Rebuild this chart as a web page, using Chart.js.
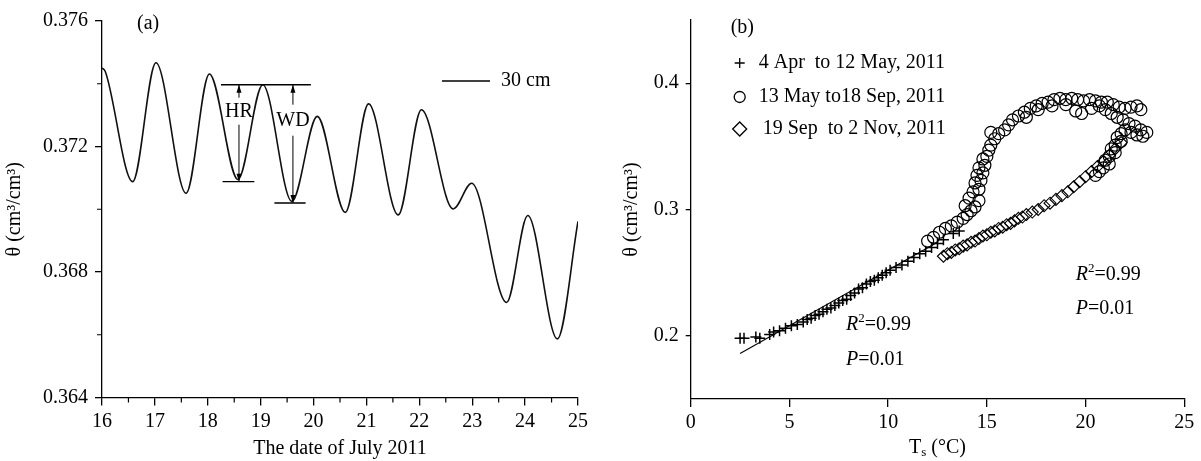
<!DOCTYPE html>
<html lang="en">
<head>
<meta charset="UTF-8" />
<title>Soil water content</title>
<script src="https://cdn.jsdelivr.net/npm/chart.js"></script>
<style>
  body { margin: 0; background: #fff; }
  #wrap { position: relative; width: 1201px; height: 461px; }
  canvas { position: absolute; top: 0; }
  #chartA { left: 0; }
  #chartB { left: 600px; }
</style>
</head>
<body>
<div id="wrap">
  <canvas id="chartA" width="600" height="461"></canvas>
  <canvas id="chartB" width="601" height="461"></canvas>
</div>

<script>
// ---- panel (a): 30 cm water content, July 2011 ----
const julyDays = [16.0, 16.06, 16.58, 17.02, 17.59, 18.03, 18.57, 19.04, 19.59, 20.07, 20.6, 21.04, 21.6, 22.04, 22.64, 22.99, 23.65, 24.05, 24.61, 25.0];
const theta30  = [0.3745, 0.3744, 0.37088, 0.37467, 0.37051, 0.37431, 0.37095, 0.37397, 0.37025, 0.37296, 0.3699, 0.37336, 0.36982, 0.37317, 0.37001, 0.37083, 0.36703, 0.3698, 0.36587, 0.36961];
const xTicksA = [16, 17, 18, 19, 20, 21, 22, 23, 24, 25];
const xMinorA = [16.5, 17.5, 18.5, 19.5, 20.5, 21.5, 22.5, 23.5, 24.5];
const yTicksA = [0.364, 0.368, 0.372, 0.376];
const yMinorA = [0.366, 0.370, 0.374];

// ---- panel (b): theta vs soil temperature ----
const plusT     = [2.5, 2.7, 3.3, 3.5, 4.0, 4.2, 4.5, 4.8, 5.1, 5.4, 5.7, 5.9, 6.1, 6.3, 6.5, 6.7, 6.9, 7.1, 7.3, 7.5, 7.7, 7.9, 8.1, 8.3, 8.5, 8.7, 8.9, 9.1, 9.3, 9.5, 9.7, 9.9, 10.1, 10.4, 10.7, 11.0, 11.3, 11.6, 11.9, 12.2, 12.5, 12.8, 13.3, 13.6];
const plusTheta = [0.198, 0.198, 0.199, 0.198, 0.201, 0.203, 0.204, 0.206, 0.208, 0.209, 0.211, 0.213, 0.214, 0.216, 0.217, 0.219, 0.221, 0.222, 0.224, 0.226, 0.228, 0.229, 0.232, 0.234, 0.237, 0.238, 0.241, 0.243, 0.244, 0.246, 0.248, 0.250, 0.252, 0.254, 0.256, 0.259, 0.262, 0.265, 0.267, 0.270, 0.273, 0.276, 0.281, 0.283];

const circT = [12.0, 12.3, 12.6, 12.9, 13.2, 13.5, 13.8, 14.0, 14.2, 13.9, 14.4, 14.6, 14.1, 14.3, 14.6, 14.4, 14.7, 14.5, 14.8, 14.6, 14.9, 14.8, 15.0, 15.1, 15.2, 15.2, 15.4, 15.6, 15.9, 16.1, 16.3, 16.6, 16.9, 17.2, 17.5, 17.8, 18.1, 18.4, 18.7, 19.0, 19.3, 19.6, 19.9, 20.2, 20.5, 20.8, 21.1, 21.4, 21.7, 22.0, 22.3, 22.6, 22.8,
  17.0, 17.6, 18.3, 19.0, 19.5, 19.8, 20.3, 20.7, 21.0, 21.3, 21.6, 21.9, 22.2, 22.5, 22.8, 23.1, 22.9, 22.6, 22.3, 22.0, 21.8, 21.6, 21.8, 21.5, 21.3, 21.5, 21.2, 21.0, 21.2, 20.9, 20.7, 20.5];
const circTheta = [0.275, 0.278, 0.282, 0.285, 0.287, 0.290, 0.293, 0.296, 0.299, 0.303, 0.302, 0.307, 0.309, 0.314, 0.316, 0.321, 0.323, 0.327, 0.329, 0.333, 0.335, 0.340, 0.342, 0.347, 0.351, 0.361, 0.356, 0.360, 0.363, 0.367, 0.371, 0.374, 0.377, 0.380, 0.382, 0.384, 0.385, 0.387, 0.388, 0.387, 0.388, 0.387, 0.386, 0.387, 0.386, 0.385, 0.385, 0.383, 0.381, 0.380, 0.381, 0.382, 0.379,
  0.373, 0.379, 0.382, 0.383, 0.378, 0.376, 0.380, 0.382, 0.379, 0.376, 0.373, 0.371, 0.368, 0.366, 0.363, 0.361, 0.358, 0.359, 0.361, 0.363, 0.360, 0.357, 0.354, 0.351, 0.348, 0.345, 0.342, 0.339, 0.336, 0.333, 0.330, 0.327];

const diaT     = [12.8, 13.0, 13.2, 13.4, 13.6, 13.8, 14.0, 14.2, 14.4, 14.6, 14.8, 15.0, 15.2, 15.4, 15.6, 15.8, 16.0, 16.2, 16.4, 16.6, 16.8, 17.0, 17.3, 17.6, 17.9, 18.2, 18.5, 18.8, 19.1, 19.4, 19.7, 20.0, 20.3, 20.6, 20.9, 21.2, 21.5, 21.8];
const diaTheta = [0.263, 0.265, 0.266, 0.268, 0.269, 0.271, 0.272, 0.274, 0.275, 0.277, 0.279, 0.280, 0.282, 0.283, 0.285, 0.286, 0.288, 0.289, 0.291, 0.293, 0.294, 0.296, 0.298, 0.300, 0.303, 0.305, 0.308, 0.311, 0.314, 0.318, 0.322, 0.326, 0.330, 0.334, 0.338, 0.343, 0.348, 0.353];

const fitT     = [2.5, 12.5];
const fitTheta = [0.186, 0.274];

const xTicksB = [0, 5, 10, 15, 20, 25];
const yTicksB = [0.2, 0.3, 0.4];

const legendB = ['4 Apr  to 12 May, 2011', '13 May to18 Sep, 2011', '19 Sep  to 2 Nov, 2011'];

const FS = 20;
Chart.defaults.font.family = '"Liberation Serif", "Times New Roman", serif';
Chart.defaults.font.size = FS;
Chart.defaults.color = '#000';

const SERIF = '"Liberation Serif", serif';

function pts(xs, ys) {
  return xs.map((v, i) => ({ x: v, y: ys[i] }));
}

function arrowHead(ctx, x, y, dir) {
  // dir = -1 points up, 1 points down
  ctx.beginPath();
  ctx.moveTo(x, y);
  ctx.lineTo(x - 2.5, y - dir * 8);
  ctx.lineTo(x + 2.5, y - dir * 8);
  ctx.closePath();
  ctx.fill();
}

// minor ticks, HR / WD markers, legend and panel tag for (a)
const annotA = {
  id: 'annotA',
  afterDraw(chart) {
    const { ctx, chartArea: ca, scales: { x, y } } = chart;
    ctx.save();
    ctx.strokeStyle = '#000';
    ctx.fillStyle = '#000';
    ctx.lineWidth = 1.2;

    // minor ticks
    ctx.beginPath();
    xMinorA.forEach(v => { const px = x.getPixelForValue(v); ctx.moveTo(px, ca.bottom); ctx.lineTo(px, ca.bottom + 5); });
    yMinorA.forEach(v => { const py = y.getPixelForValue(v); ctx.moveTo(ca.left, py); ctx.lineTo(ca.left - 5, py); });
    ctx.stroke();

    // reference lines for HR and WD
    const refLines = [[18.25, 19.95, 0.37397], [18.28, 18.88, 0.37088], [19.26, 19.85, 0.37020]];
    ctx.lineWidth = 1.4;
    ctx.beginPath();
    refLines.forEach(([a, b, v]) => {
      const py = y.getPixelForValue(v);
      ctx.moveTo(x.getPixelForValue(a), py);
      ctx.lineTo(x.getPixelForValue(b), py);
    });
    ctx.stroke();

    const topY = y.getPixelForValue(0.37397);
    ctx.lineWidth = 1;
    ctx.font = FS + 'px ' + SERIF;
    ctx.textAlign = 'center';
    ctx.textBaseline = 'middle';

    // HR
    const hx = x.getPixelForValue(18.59);
    const hrBot = y.getPixelForValue(0.37088);
    ctx.beginPath();
    ctx.moveTo(hx, topY); ctx.lineTo(hx, topY + 13);
    ctx.moveTo(hx, topY + 40); ctx.lineTo(hx, hrBot);
    ctx.stroke();
    arrowHead(ctx, hx, topY, -1);
    arrowHead(ctx, hx, hrBot, 1);
    ctx.fillText('HR', hx, topY + 27);

    // WD
    const wx = x.getPixelForValue(19.61);
    const wdBot = y.getPixelForValue(0.37020);
    ctx.beginPath();
    ctx.moveTo(wx, topY); ctx.lineTo(wx, topY + 20);
    ctx.moveTo(wx, topY + 51); ctx.lineTo(wx, wdBot);
    ctx.stroke();
    arrowHead(ctx, wx, topY, -1);
    arrowHead(ctx, wx, wdBot, 1);
    ctx.fillText('WD', wx, topY + 36);

    // legend
    ctx.lineWidth = 1.4;
    ctx.beginPath();
    ctx.moveTo(ca.left + 340, 81);
    ctx.lineTo(ca.left + 388, 81);
    ctx.stroke();
    ctx.textAlign = 'left';
    ctx.fillText('30 cm', ca.left + 399, 81);

    ctx.fillText('(a)', ca.left + 35, 24);
    ctx.restore();
  }
};

new Chart(document.getElementById('chartA'), {
  type: 'line',
  data: {
    datasets: [{
      data: pts(julyDays, theta30),
      borderColor: '#111',
      borderWidth: 1.6,
      pointRadius: 0,
      cubicInterpolationMode: 'monotone',
      fill: false
    }]
  },
  options: {
    animation: false,
    responsive: false,
    layout: { padding: { top: 21, right: 22, left: 0, bottom: 0 } },
    plugins: { legend: { display: false }, tooltip: { enabled: false } },
    scales: {
      x: {
        type: 'linear', min: 16, max: 25,
        afterBuildTicks: s => { s.ticks = xTicksA.map(v => ({ value: v })); },
        afterFit: s => { s.height = 63.5; },
        border: { color: '#000', width: 1.3 },
        grid: { drawOnChartArea: false, color: '#000', lineWidth: 1.3, tickLength: 8 },
        ticks: { padding: 4, maxRotation: 0, autoSkip: false, callback: v => v },
        title: { display: true, text: 'The date of July 2011', padding: { top: 0, bottom: 0 } }
      },
      y: {
        min: 0.364, max: 0.376,
        afterBuildTicks: s => { s.ticks = yTicksA.map(v => ({ value: v })); },
        afterFit: s => { s.width = 102; },
        border: { color: '#000', width: 1.3 },
        grid: { drawOnChartArea: false, color: '#000', lineWidth: 1.3, tickLength: 7 },
        ticks: { padding: 7, callback: v => v.toFixed(3) },
        title: { display: true, text: 'θ (cm³/cm³)', padding: { top: 3, bottom: 0 } }
      }
    }
  },
  plugins: [annotA]
});

// legend, statistics and axis title for (b)
const annotB = {
  id: 'annotB',
  afterDraw(chart) {
    const { ctx, chartArea: ca, scales: { x, y } } = chart;
    const H = Chart.helpers;
    ctx.save();
    ctx.fillStyle = '#000';
    ctx.strokeStyle = '#000';
    ctx.textBaseline = 'middle';
    ctx.textAlign = 'left';
    ctx.font = FS + 'px ' + SERIF;

    ctx.fillText('(b)', ca.left + 40, 28);

    const styles = [['cross', 5], ['circle', 5.5], ['rectRot', 7]];
    const rows = [63, 97, 129];
    const textX = [ca.left + 68, ca.left + 68, ca.left + 72];
    styles.forEach(([st, r], i) => {
      ctx.lineWidth = 1.3;
      ctx.fillStyle = 'rgba(0,0,0,0)';
      H.drawPoint(ctx, { pointStyle: st, radius: r, borderWidth: 1.3 }, ca.left + 49, rows[i]);
      ctx.fillStyle = '#000';
      ctx.fillText(legendB[i], textX[i], rows[i]);
    });

    // R² and P labels
    const stats = [[7.87, 0.2086, 0.1809], [19.5, 0.2482, 0.2213]];
    stats.forEach(([t, r2, p]) => {
      const px = x.getPixelForValue(t);
      let cx = px;
      const ry = y.getPixelForValue(r2);
      ctx.font = 'italic ' + FS + 'px ' + SERIF;
      ctx.fillText('R', cx, ry);
      cx += ctx.measureText('R').width;
      ctx.font = '13px ' + SERIF;
      ctx.fillText('2', cx, ry - 6);
      cx += ctx.measureText('2').width;
      ctx.font = FS + 'px ' + SERIF;
      ctx.fillText('=0.99', cx, ry);

      const py = y.getPixelForValue(p);
      ctx.font = 'italic ' + FS + 'px ' + SERIF;
      ctx.fillText('P', px, py);
      const pw = ctx.measureText('P').width;
      ctx.font = FS + 'px ' + SERIF;
      ctx.fillText('=0.01', px + pw, py);
    });

    // x-axis title with subscript
    ctx.font = FS + 'px ' + SERIF;
    const wT = ctx.measureText('T').width;
    const wRest = ctx.measureText(' (°C)').width;
    ctx.font = '13px ' + SERIF;
    const wS = ctx.measureText('s').width;
    let tx = (ca.left + ca.right) / 2 - (wT + wS + wRest) / 2;
    const ty = 448;
    ctx.font = FS + 'px ' + SERIF;
    ctx.fillText('T', tx, ty);
    tx += wT;
    ctx.font = '13px ' + SERIF;
    ctx.fillText('s', tx, ty + 5);
    tx += wS;
    ctx.font = FS + 'px ' + SERIF;
    ctx.fillText(' (°C)', tx, ty);
    ctx.restore();
  }
};

new Chart(document.getElementById('chartB'), {
  type: 'scatter',
  data: {
    datasets: [
      { data: pts(plusT, plusTheta), pointStyle: 'cross', pointRadius: 5.5, pointBorderWidth: 1.5, borderColor: '#000', backgroundColor: 'rgba(0,0,0,0)' },
      { data: pts(circT, circTheta), pointStyle: 'circle', pointRadius: 6, pointBorderWidth: 1.2, borderColor: '#000', backgroundColor: 'rgba(0,0,0,0)' },
      { data: pts(diaT, diaTheta), pointStyle: 'rectRot', pointRadius: 6, pointBorderWidth: 1.1, borderColor: '#000', backgroundColor: 'rgba(0,0,0,0)' },
      { type: 'line', data: pts(fitT, fitTheta), borderColor: '#000', borderWidth: 1.1, pointRadius: 0, fill: false }
    ]
  },
  options: {
    animation: false,
    responsive: false,
    layout: { padding: { top: 20, right: 16.7, left: 0, bottom: 0 } },
    plugins: { legend: { display: false }, tooltip: { enabled: false } },
    scales: {
      x: {
        type: 'linear', min: 0, max: 25,
        afterBuildTicks: s => { s.ticks = xTicksB.map(v => ({ value: v })); },
        afterFit: s => { s.height = 62; },
        border: { color: '#000', width: 1.3 },
        grid: { drawOnChartArea: false, color: '#000', lineWidth: 1.3, tickLength: 8 },
        ticks: { padding: 4, maxRotation: 0, autoSkip: false, callback: v => v }
      },
      y: {
        min: 0.15, max: 0.45,
        afterBuildTicks: s => { s.ticks = yTicksB.map(v => ({ value: v })); },
        afterFit: s => { s.width = 90.7; },
        border: { color: '#000', width: 1.3 },
        grid: { drawOnChartArea: false, color: '#000', lineWidth: 1.3, tickLength: 5 },
        ticks: { padding: 7, callback: v => v.toFixed(1) },
        title: { display: true, text: 'θ (cm³/cm³)', padding: { top: 20, bottom: 0 } }
      }
    }
  },
  plugins: [annotB]
});
</script>
</body>
</html>
